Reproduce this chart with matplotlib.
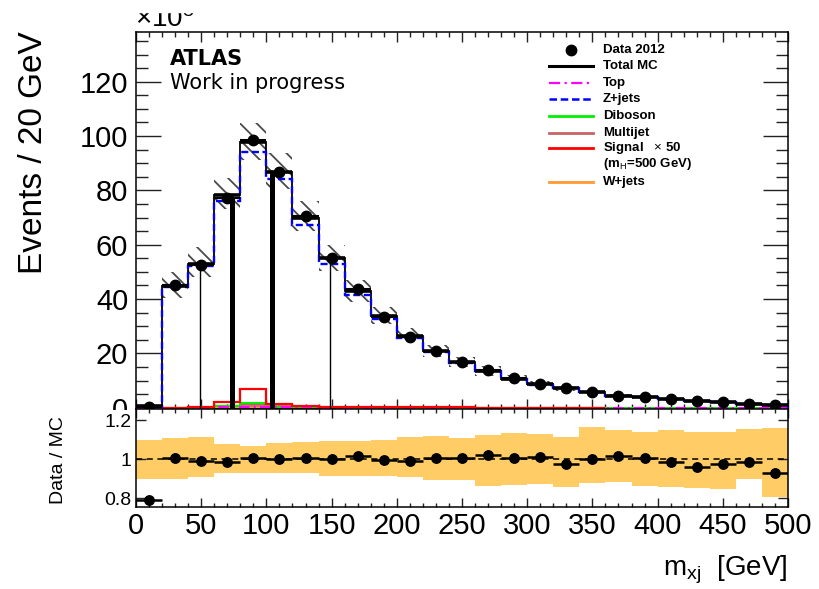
import numpy as np
import matplotlib
matplotlib.use('Agg')
import matplotlib.pyplot as plt
from matplotlib.patches import Rectangle
from matplotlib.ticker import MultipleLocator, FixedLocator

plt.rcParams['font.family'] = ['Liberation Sans', 'DejaVu Sans']
plt.rcParams['mathtext.fontset'] = 'custom'
plt.rcParams['mathtext.rm'] = 'Liberation Sans'
plt.rcParams['mathtext.it'] = 'Liberation Sans:italic'
plt.rcParams['mathtext.bf'] = 'Liberation Sans:bold'
plt.rcParams['hatch.linewidth'] = 1.3

# ---------------- data (units of 10^3 events / 20 GeV) ----------------
bin_edges = [0, 20, 40, 60, 80, 100, 120, 140, 160, 180, 200, 220, 240, 260,
             280, 300, 320, 340, 360, 380, 400, 420, 440, 460, 480, 500]
data_2012 = [0.4, 45.3, 52.6, 77.2, 98.6, 86.8, 70.5, 55.2, 43.6, 33.5, 26.1,
             21.0, 16.9, 13.9, 10.8, 8.7, 7.1, 5.9, 4.4, 3.8, 3.2, 2.5, 2.0,
             1.4, 1.0]
total_mc = [0.5, 44.9, 53.0, 78.4, 97.8, 86.6, 69.9, 55.0, 42.8, 33.6, 26.3,
            20.8, 16.8, 13.6, 10.7, 8.6, 7.3, 5.9, 4.3, 3.8, 3.2, 2.6, 2.1,
            1.4, 1.1]
zjets = [0.4, 44.3, 52.0, 76.0, 94.0, 84.0, 67.4, 52.8, 41.3, 32.8, 25.8,
         20.4, 16.5, 13.4, 10.5, 8.5, 7.2, 5.8, 4.25, 3.75, 3.15, 2.55, 2.05,
         1.4, 1.1]
top = [0.0, 0.02, 0.05, 0.1, 0.12, 0.1, 0.08, 0.06, 0.05, 0.04, 0.03, 0.03,
       0.02, 0.02, 0.02, 0.01, 0.01, 0.01, 0.01, 0.01, 0.01, 0.0, 0.0, 0.0, 0.0]
diboson = [0.0, 0.02, 0.05, 0.6, 1.6, 0.4, 0.15, 0.08, 0.05, 0.04, 0.03, 0.03,
           0.02, 0.02, 0.02, 0.01, 0.01, 0.01, 0.01, 0.01, 0.01, 0.0, 0.0, 0.0, 0.0]
multijet = [0.0, 0.0, 0.2, 1.0, 1.3, 1.2, 0.5, 0.2, 0.1, 0.05, 0.03, 0.02,
            0.02, 0.01, 0.01, 0.01, 0.0, 0.0, 0.0, 0.0, 0.0, 0.0, 0.0, 0.0, 0.0]
wjets = [0.0, 0.01, 0.02, 0.04, 0.05, 0.04, 0.03, 0.02, 0.02, 0.01, 0.01, 0.01,
         0.0, 0.0, 0.0, 0.0, 0.0, 0.0, 0.0, 0.0, 0.0, 0.0, 0.0, 0.0, 0.0]
signal_edges = [20, 40, 60, 80, 100, 120, 140, 160, 180, 200, 220, 240, 260,
                280, 300, 320, 340, 360]
signal_x50 = [0.0, 0.3, 2.1, 7.0, 1.2, 0.5, 0.25, 0.15, 0.12, 0.1, 0.08,
              0.07, 0.06, 0.05, 0.05, 0.04, 0.04]
stray_bar_x = [49, 73.5, 104.5, 149]
stray_bar_top = [52.6, 77.5, 86.8, 54.8]

ratio = [0.790, 1.009, 0.993, 0.985, 1.008, 1.002, 1.008, 1.003, 1.018, 0.998,
         0.992, 1.008, 1.008, 1.023, 1.008, 1.010, 0.978, 1.003, 1.018, 1.008,
         0.985, 0.958, 0.975, 0.988, 0.928]
band_up = [1.097, 1.110, 1.115, 1.078, 1.070, 1.082, 1.087, 1.092, 1.095,
           1.098, 1.112, 1.117, 1.108, 1.125, 1.133, 1.132, 1.112, 1.165,
           1.148, 1.142, 1.148, 1.142, 1.142, 1.155, 1.162]
band_dn = [0.897, 0.900, 0.908, 0.932, 0.932, 0.928, 0.928, 0.915, 0.912,
           0.912, 0.908, 0.892, 0.895, 0.865, 0.870, 0.875, 0.858, 0.878,
           0.882, 0.865, 0.858, 0.852, 0.846, 0.897, 0.805]

edges = np.array(bin_edges, dtype=float)
centers = 0.5 * (edges[:-1] + edges[1:])
halfw = 0.5 * np.diff(edges)
mc = np.array(total_mc)

# ---------------- figure ----------------
W, H = 819, 589
fig = plt.figure(figsize=(W / 100, H / 100), dpi=100)

def fx(px):
    return px / W

def fy(py):
    return 1 - py / H

L, R = 136, 788
ax = fig.add_axes([fx(L), fy(408.5), fx(R) - fx(L), fy(31.7) - fy(408.5)])
cover = fig.add_axes([0, 0, 1, fy(409.5)])
cover.set_facecolor('white')
cover.axis('off')
cover.add_patch(Rectangle((0, 0), 1, 1, transform=cover.transAxes, color='white'))
axr = fig.add_axes([fx(L), fy(507.3), fx(R) - fx(L), fy(409.5) - fy(507.3)])

for a in (ax, axr):
    for s in a.spines.values():
        s.set_linewidth(1.1)

# ---- main panel ----
ax.stairs(mc * np.array(band_up), edges, baseline=mc * np.array(band_dn),
          fill=True, facecolor='none', edgecolor='#4a4a4a', linewidth=0,
          hatch='\\\\', zorder=1)
ax.stairs(multijet, edges, fill=True, facecolor='#c87878', edgecolor='#c06060',
          linewidth=1.0, zorder=2)
ax.stairs(wjets, edges, color='#ff9933', linewidth=1.5, zorder=2)
ax.stairs(diboson, edges, color='#00ee00', linewidth=1.5, zorder=3)
ax.stairs(top, edges, color='#ff00ff', linewidth=1.5, linestyle=(0, (5, 2, 1, 2)), zorder=3)
ax.stairs(signal_x50, signal_edges, color='#ff0000', linewidth=1.6, zorder=4)
ax.stairs(total_mc, edges, color='black', linewidth=1.3, zorder=4)
ax.stairs(zjets, edges, color='#0000ff', linewidth=1.7, linestyle=(0, (3, 1.5)), zorder=5)
ax.hlines(total_mc, edges[:-1], edges[1:], colors='black', linewidth=2.6, zorder=6)
ax.vlines(stray_bar_x, 0, stray_bar_top, colors='black',
          linewidths=[1.0, 3.6, 3.6, 1.0], zorder=6)
ax.errorbar(centers, data_2012, xerr=halfw, fmt='o', color='black', ms=7.5,
            elinewidth=1.5, capsize=0, zorder=7)

ax.set_xlim(0, 500)
ax.set_ylim(-0.3, 138.4)
ax.xaxis.set_major_locator(MultipleLocator(50))
ax.xaxis.set_minor_locator(MultipleLocator(10))
ax.yaxis.set_major_locator(FixedLocator([0, 20, 40, 60, 80, 100, 120]))
ax.yaxis.set_minor_locator(MultipleLocator(5))
ax.tick_params(axis='both', which='both', direction='in', top=True, right=True,
               width=1.0, color='#222222')
ax.tick_params(axis='x', which='major', length=7.5, labelbottom=False)
ax.tick_params(axis='x', which='minor', length=3.8)
ax.tick_params(axis='y', which='major', length=18, labelsize=21, pad=5.5)
ax.tick_params(axis='y', which='minor', length=8.5)
ax.set_ylabel('Events / 20 GeV', fontsize=24, loc='top')
ax.yaxis.set_label_coords((49 - L) / (R - L), 1.0)

ax.text(0.052, 0.912, 'ATLAS', transform=ax.transAxes, fontsize=15,
        fontweight='bold', family='DejaVu Sans', va='baseline')
ax.text(0.052, 0.848, 'Work in progress', transform=ax.transAxes, fontsize=15,
        family='DejaVu Sans', va='baseline')

# legend (drawn manually)
def ay(py):
    return (408.5 - py) / (408.5 - 31.7)

lx0, lx1, tx = (549 - L) / (R - L), (593 - L) / (R - L), (603 - L) / (R - L)
lfs = 9.5
ax.plot([(lx0 + lx1) / 2], [ay(50)], 'o', color='black', ms=7.5,
        transform=ax.transAxes, clip_on=False)
entries = [
    (66, 'Total MC', dict(color='black', lw=2.2)),
    (82.7, 'Top', dict(color='#ff00ff', lw=1.6, ls=(0, (5, 2, 1, 2)))),
    (99.3, 'Z+jets', dict(color='#0000ff', lw=1.8, ls=(0, (3, 1.5)))),
    (116, 'Diboson', dict(color='#00ee00', lw=2.0)),
    (132.7, 'Multijet', dict(color='#c86464', lw=2.0)),
    (147.8, 'Signal   $\\times$ 50', dict(color='#ff0000', lw=2.0)),
    (181.7, 'W+jets', dict(color='#ff9933', lw=2.0)),
]
ax.text(tx, ay(50), 'Data 2012', transform=ax.transAxes, fontsize=lfs,
        fontweight='bold', va='center', ha='left')
for py, lab, st in entries:
    ax.plot([lx0, lx1], [ay(py), ay(py)], transform=ax.transAxes,
            clip_on=False, **st)
    ax.text(tx, ay(py), lab, transform=ax.transAxes, fontsize=lfs,
            fontweight='bold', va='center', ha='left')
ax.text(tx, ay(164.3), '(m$_{\\rm H}$=500 GeV)', transform=ax.transAxes,
        fontsize=lfs, fontweight='bold', va='center', ha='left')

# ---- ratio panel ----
axr.stairs(band_up, edges, baseline=band_dn, fill=True, color='#ffcc66',
           linewidth=0, zorder=1)
axr.axhline(1.0, color='black', lw=1.1, ls=(0, (4, 3)), zorder=2)
axr.errorbar(centers, ratio, xerr=halfw, fmt='o', color='black', ms=6.8,
             elinewidth=1.8, capsize=0, zorder=3)
axr.set_xlim(0, 500)
axr.set_ylim(0.754, 1.255)
axr.xaxis.set_major_locator(MultipleLocator(50))
axr.xaxis.set_minor_locator(MultipleLocator(10))
axr.yaxis.set_major_locator(FixedLocator([0.8, 1.0, 1.2]))
axr.set_yticklabels(['0.8', '1', '1.2'])
axr.tick_params(axis='both', which='both', direction='in', top=True, right=True,
                width=1.0, color='#222222')
axr.tick_params(axis='x', which='major', length=6.5, labelsize=21, pad=3.5)
axr.tick_params(axis='x', which='minor', length=3.2)
axr.tick_params(axis='y', which='major', length=7, labelsize=14, pad=3.5)
axr.set_ylabel('Data / MC', fontsize=14)
axr.yaxis.set_label_coords((67 - L) / (R - L), 0.48)

fig.text(fx(788), fy(575), 'm$_{\\rm xj}$  [GeV]', fontsize=20, ha='right',
         va='baseline')

# axis multiplier label (top partly clipped as in the original)
fig.text(fx(135), fy(27), '$\\times$10$^{3}$', fontsize=20, ha='left',
         va='baseline')
fig.add_artist(Rectangle((0, fy(12)), 1, 12 / H, transform=fig.transFigure,
                         color='white', zorder=20))

fig.savefig('out.png', dpi=100)
